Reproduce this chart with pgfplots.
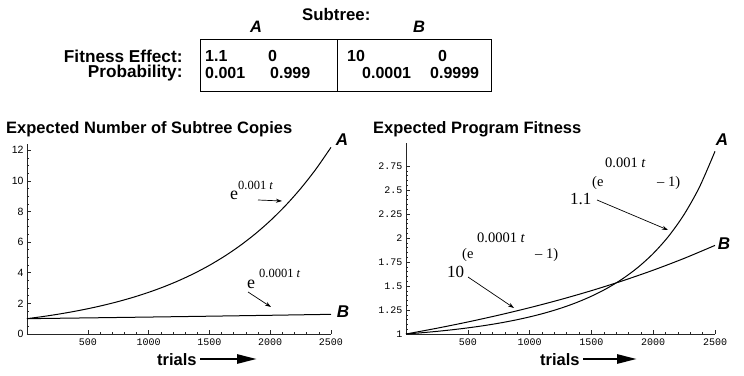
\documentclass[border=0pt]{standalone}
\usepackage{fontspec}
\setmainfont{Liberation Sans}
\newfontfamily\mono{Liberation Mono}
\newfontfamily\serif{Liberation Serif}
\usepackage{pgfplots}
\pgfplotsset{compat=1.18}
\usetikzlibrary{arrows.meta}
\newcommand{\fs}[1]{\fontsize{#1}{#1}\selectfont}
\begin{document}
\begin{tikzpicture}[x=1pt,y=1pt]
\path[use as bounding box] (0,0) rectangle (744,375);
\pgfplotsset{
  every axis/.append style={
    scale only axis, clip=false,
    axis lines*=left,
    axis line style={-, line width=0.6pt, black!85},
    tick align=inside,
    major tick length=4pt, minor tick length=2pt,
    every tick/.style={black!85, line width=0.5pt},
    xmin=0, xmax=2500,
    xtick={500,1000,1500,2000,2500},
    xticklabels={500,1000,1500,2000,2500},
    minor x tick num=4,
    xticklabel style={font=\mono\fs{10}, yshift=-1pt},
  }
}
% ---------- left axis ----------
\begin{axis}[
  at={(27pt,41pt)}, anchor=south west,
  width=304pt, height=190pt,
  ymin=0, ymax=12.4,
  ytick={0,2,4,6,8,10,12},
  yticklabels={0,2,4,6,8,10,12},
  minor y tick num=3,
  yticklabel style={font=\fs{10.5}},
]
\addplot[black, line width=1pt, smooth] coordinates {
(0,1)(125,1.1331)(250,1.2840)(375,1.4550)(500,1.6487)(625,1.8682)(750,2.1170)(875,2.3989)(1000,2.7183)(1125,3.0802)(1250,3.4903)(1375,3.9551)(1500,4.4817)(1625,5.0784)(1750,5.7546)(1875,6.5208)(2000,7.3891)(2125,8.3729)(2250,9.4877)(2375,10.7511)(2500,12.1825)};
\addplot[black, line width=1pt] coordinates {
(0,1)(500,1.0513)(1000,1.1052)(1500,1.1618)(2000,1.2214)(2500,1.2840)};
\end{axis}
% ---------- right axis ----------
\begin{axis}[
  at={(406pt,41pt)}, anchor=south west,
  width=309pt, height=191pt,
  ymin=1, ymax=2.99,
  ytick={1,1.25,1.5,1.75,2,2.25,2.5,2.75},
  yticklabels={1,1.25,1.5,1.75,2,2.25,2.5,2.75},
  minor y tick num=4,
  yticklabel style={font=\mono\fs{10}},
]
\addplot[black, line width=1pt, smooth] coordinates {
(0,1)(125,1.01277)(250,1.02744)(375,1.04432)(500,1.06378)(625,1.08627)(750,1.11233)(875,1.14263)(1000,1.17795)(1125,1.21929)(1250,1.26787)(1375,1.32530)(1500,1.39354)(1625,1.47506)(1750,1.57326)(1875,1.69248)(2000,1.83851)(2125,2.01923)(2250,2.24556)(2375,2.53290)(2500,2.90319)};
\addplot[black, line width=1pt, smooth] coordinates {
(0,1)(250,1.06002)(500,1.12530)(750,1.19642)(1000,1.27401)(1250,1.35877)(1500,1.45156)(1750,1.55327)(2000,1.66496)(2250,1.78783)(2500,1.92320)};
\end{axis}
% ---------- table ----------
\node[anchor=base west, inner sep=0] at (302,354) {\bfseries\fs{16.8}Subtree:};
\node[anchor=base west, inner sep=0] at (250,342) {\bfseries\itshape\fs{16.5}A};
\node[anchor=base west, inner sep=0] at (413,342) {\bfseries\itshape\fs{16.5}B};
\draw[line width=0.8pt] (200.7,283.3) rectangle (491.7,335.7);
\draw[line width=0.8pt] (337.3,283.3) -- (337.3,335.7);
\node[anchor=base east, inner sep=0] at (182.7,312.5) {\bfseries\fs{17.2}Fitness Effect:};
\node[anchor=base east, inner sep=0] at (182.7,297) {\bfseries\fs{17.2}Probability:};
\begin{scope}[every node/.style={anchor=base west, inner sep=0, font=\bfseries\fs{16}}]
\node at (205,313) {1.1};
\node at (268,313) {0};
\node at (347,313) {10};
\node at (438,313) {0};
\node at (205,296.7) {0.001};
\node at (270,296.7) {0.999};
\node at (362,296.7) {0.0001};
\node at (430,296.7) {0.9999};
\end{scope}
% ---------- titles ----------
\node[anchor=base west, inner sep=0] at (6,241) {\bfseries\fs{16.5}Expected Number of Subtree Copies};
\node[anchor=base west, inner sep=0] at (373,241) {\bfseries\fs{16.5}Expected Program Fitness};
% ---------- curve labels ----------
\begin{scope}[every node/.style={inner sep=0, font=\bfseries\itshape\fs{17}}]
\node at (342,235) {A};
\node at (343,63) {B};
\node at (722,235) {A};
\node at (724,131) {B};
\end{scope}
% ---------- trials ----------
\node[anchor=base west, inner sep=0] at (157,10) {\bfseries\fs{16.5}trials};
\node[anchor=base west, inner sep=0] at (540,10) {\bfseries\fs{16.5}trials};
\draw[line width=2.5pt, -{Triangle[length=20pt,width=9pt]}] (200,16) -- (257,16);
\draw[line width=2.5pt, -{Triangle[length=20pt,width=9pt]}] (583,16) -- (637,16);
% ---------- formula annotations ----------
\begin{scope}[every node/.style={anchor=base west, inner sep=0}]
\node[font=\serif\fs{18}] at (230,175) {e};
\node[font=\serif\fs{12.5}] at (238,185) {0.001 \textit{t}};
\node[font=\serif\fs{18}] at (247,87) {e};
\node[font=\serif\fs{12.5}] at (259,98) {0.0001 \textit{t}};
\node[font=\serif\fs{17}] at (570,170) {1.1};
\node[font=\serif\fs{14.5}] at (592,188) {(e};
\node[font=\serif\fs{14.5}] at (605,207) {0.001 \textit{t}};
\node[font=\serif\fs{14.5}] at (657,188) {\textendash\ 1)};
\node[font=\serif\fs{17}] at (447,98) {10};
\node[font=\serif\fs{14.5}] at (462,117) {(e};
\node[font=\serif\fs{14.5}] at (477,132) {0.0001 \textit{t}};
\node[font=\serif\fs{14.5}] at (535,117) {\textendash\ 1)};
\end{scope}
\begin{scope}[line width=0.7pt, -{Stealth[length=6pt,width=4pt]}]
\draw (258,175) -- (282,174);
\draw (248,83) -- (271,68);
\draw (597,175) -- (668,145);
\draw (468,98) -- (514,67);
\end{scope}
\end{tikzpicture}
\end{document}
